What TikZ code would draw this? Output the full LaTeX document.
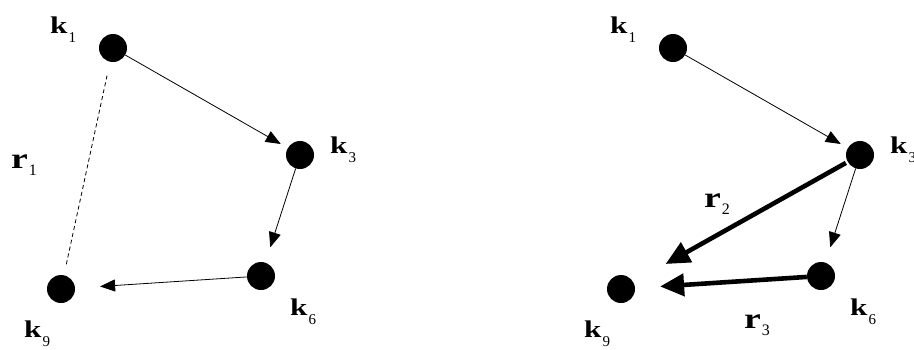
\documentclass[tikz,border=0pt]{standalone}
\usepackage{fontspec}
\setmainfont{Liberation Serif}
\usetikzlibrary{arrows.meta}
\newcommand{\klab}[2]{\scalebox{1.3}[1]{\fontsize{24}{26}\selectfont\bfseries #1}\kern1pt\raisebox{-9pt}{\fontsize{15}{15}\selectfont #2}}
\newcommand{\rlab}[2]{\scalebox{1.3}[1]{\fontsize{29}{31}\selectfont\bfseries #1}\kern1pt\raisebox{-7pt}{\fontsize{16}{16}\selectfont #2}}
\begin{document}
\begin{tikzpicture}[x=1pt,y=-1pt,
  dot/.style={circle,fill=black,minimum size=28pt,inner sep=0pt},
  lab/.style={inner sep=0pt,anchor=base west},
  thin/.style={line width=0.8pt,-{Triangle[length=15pt,width=12pt]}},
  thick/.style={line width=4.6pt,-{Triangle[length=24pt,width=22pt]}},
  dashline/.style={line width=0.8pt,dash pattern=on 4pt off 3pt}]
\useasboundingbox (0,0) rectangle (914,349);
\clip (0,0) rectangle (914,349);
% left panel
\node[dot] (a1) at (113,48) {};
\node[dot] (a3) at (300,155) {};
\node[dot] (a6) at (261,276) {};
\node[dot] (a9) at (61,289) {};
\node[lab] (la1) at (50,33) {\klab{k}{1}};
\node[lab] (la3) at (330,153) {\klab{k}{3}};
\node[lab] (la6) at (290,315) {\klab{k}{6}};
\node[lab] (la9) at (24,337) {\klab{k}{9}};
\node[lab] (lr1) at (11,168) {\rlab{r}{1}};
\draw[thin,shorten >=8pt] (a1) -- (a3);
\draw[thin,shorten >=16pt] (a3) -- (a6);
\draw[thin,shorten >=25pt] (a6) -- (a9);
\draw[dashline,shorten <=14pt,shorten >=9pt] (a1) -- (a9);
% right panel
\node[dot] (b1) at (673,48) {};
\node[dot] (b3) at (860,155) {};
\node[dot] (b6) at (821,276) {};
\node[dot] (b9) at (621,289) {};
\node[lab] (lb1) at (610,33) {\klab{k}{1}};
\node[lab] (lb3) at (890,153) {\klab{k}{3}};
\node[lab] (lb6) at (850,315) {\klab{k}{6}};
\node[lab] (lb9) at (584,337) {\klab{k}{9}};
\node[lab] (lr2) at (704,207) {\rlab{r}{2}};
\node[lab] (lr3) at (744,328) {\rlab{r}{3}};
\draw[thin,shorten >=8pt] (b1) -- (b3);
\draw[thin,shorten >=16pt] (b3) -- (b6);
\draw[thick,shorten <=2pt,shorten >=37pt] (b3) -- (b9);
\draw[thick,shorten >=25pt] (b6) -- (b9);
\end{tikzpicture}
\end{document}
